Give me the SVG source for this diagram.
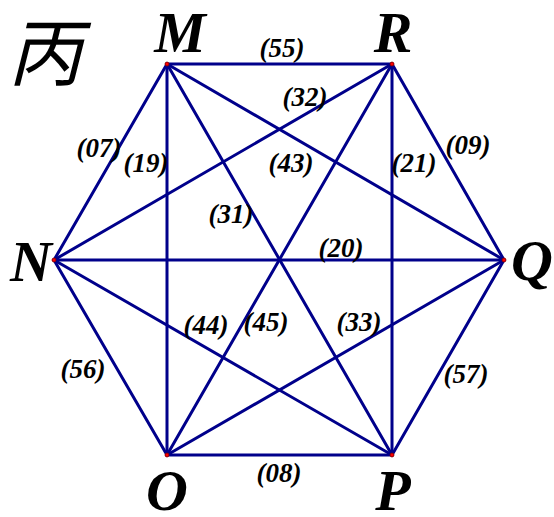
<svg xmlns="http://www.w3.org/2000/svg" width="554" height="517" viewBox="0 0 554 517">
<style>
.e{stroke:#00008b;stroke-width:3;fill:none;stroke-linecap:round}
.l{font-family:"Liberation Serif",serif;font-style:italic;font-weight:bold;font-size:27px;fill:#000;text-anchor:middle}
.v{font-family:"Liberation Serif",serif;font-style:italic;font-weight:bold;font-size:58px;fill:#000;text-anchor:middle}
.d{fill:#ff0000;stroke:#800000;stroke-width:0.8}
</style>
<rect width="554" height="517" fill="#fff"/>
<text x="8" y="80" font-family="'Noto Sans CJK SC',sans-serif" font-style="italic" font-size="74">丙</text>
<g id="connectors">
<line class="e" x1="167" y1="64" x2="392" y2="64"/>
<line class="e" x1="167" y1="64" x2="54" y2="260"/>
<line class="e" x1="167" y1="64" x2="167" y2="455"/>
<line class="e" x1="167" y1="64" x2="392" y2="455"/>
<line class="e" x1="167" y1="64" x2="504" y2="260"/>
<line class="e" x1="392" y1="64" x2="54" y2="260"/>
<line class="e" x1="392" y1="64" x2="167" y2="455"/>
<line class="e" x1="392" y1="64" x2="392" y2="455"/>
<line class="e" x1="392" y1="64" x2="504" y2="260"/>
<line class="e" x1="54" y1="260" x2="504" y2="260"/>
<line class="e" x1="54" y1="260" x2="167" y2="455"/>
<line class="e" x1="54" y1="260" x2="392" y2="455"/>
<line class="e" x1="167" y1="455" x2="392" y2="455"/>
<line class="e" x1="167" y1="455" x2="504" y2="260"/>
<line class="e" x1="392" y1="455" x2="504" y2="260"/>
</g>
<g id="labels">
<text class="l" x="282" y="57">(55)</text>
<text class="l" x="305" y="106">(32)</text>
<text class="l" x="99" y="157">(07)</text>
<text class="l" x="146" y="172">(19)</text>
<text class="l" x="291" y="172">(43)</text>
<text class="l" x="414" y="172">(21)</text>
<text class="l" x="468" y="154">(09)</text>
<text class="l" x="231" y="223">(31)</text>
<text class="l" x="341" y="257">(20)</text>
<text class="l" x="206" y="334">(44)</text>
<text class="l" x="266" y="331">(45)</text>
<text class="l" x="359" y="331">(33)</text>
<text class="l" x="83" y="378">(56)</text>
<text class="l" x="466" y="383">(57)</text>
<text class="l" x="279" y="482">(08)</text>
</g>
<g id="M"><circle class="d" cx="167" cy="64" r="2"/><text class="v" x="180" y="52">M</text></g>
<g id="R"><circle class="d" cx="392" cy="64" r="2"/><text class="v" x="393" y="52">R</text></g>
<g id="N"><circle class="d" cx="54" cy="260" r="2"/><text class="v" x="31" y="281">N</text></g>
<g id="Q"><circle class="d" cx="504" cy="260" r="2"/><text class="v" x="532" y="280">Q</text></g>
<g id="O"><circle class="d" cx="167" cy="455" r="2"/><text class="v" x="167" y="510">O</text></g>
<g id="P"><circle class="d" cx="392" cy="455" r="2"/><text class="v" x="393" y="510">P</text></g>
</svg>
